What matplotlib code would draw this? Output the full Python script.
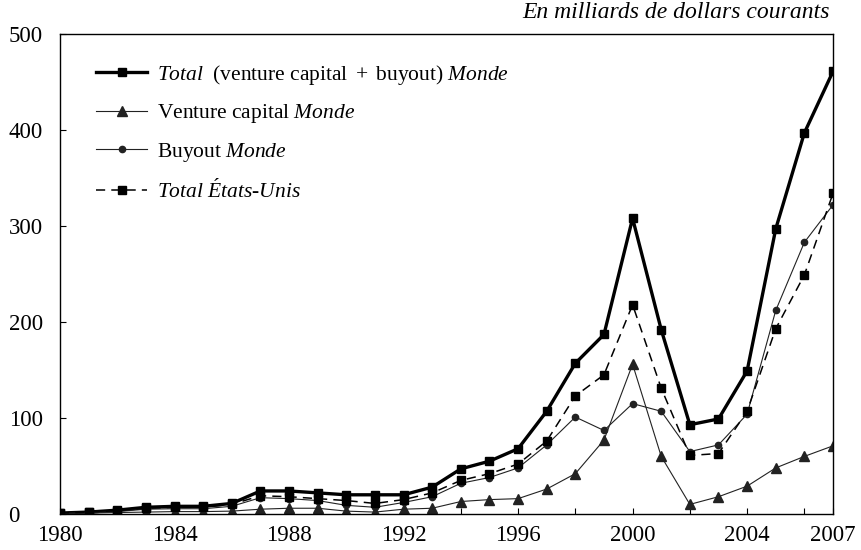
import matplotlib
matplotlib.use("Agg")
import matplotlib.pyplot as plt

plt.rcParams['font.family'] = ['Liberation Serif', 'DejaVu Serif']
plt.rcParams['mathtext.fontset'] = 'custom'
plt.rcParams['mathtext.rm'] = 'Liberation Serif'
plt.rcParams['mathtext.it'] = 'Liberation Serif:italic'

years = list(range(1980, 2008))
total_monde = [1, 2, 4, 7, 8, 8, 11, 24, 24, 22, 20, 20, 20, 28, 47, 55, 68,
               107, 157, 187, 308, 192, 93, 99, 149, 297, 397, 461]
venture = [0.5, 1, 1.5, 2, 2.5, 2.5, 3, 5, 6, 6, 3, 2, 5, 6, 13, 15, 16,
           26, 42, 77, 156, 60, 10, 18, 29, 48, 60, 71]
buyout = [0.5, 1, 2.5, 5, 5.5, 5.5, 8, 17, 16, 14, 9, 7, 12, 18, 32, 38, 48,
          72, 101, 87, 115, 107, 65, 72, 104, 212, 283, 322]
total_us = [1, 2, 3.5, 6, 7, 7, 10, 19, 18, 16, 14, 11, 15, 22, 35, 42, 52,
            76, 123, 145, 218, 131, 61, 63, 107, 193, 249, 334]

labels = [
    r"$\mathit{Total\ \ (}\mathrm{venture\ capital\ +\ buyout}\mathit{)\ Monde}$",
    r"$\mathrm{Venture\ capital\ }\mathit{Monde}$",
    r"$\mathrm{Buyout\ }\mathit{Monde}$",
    r"$\mathit{Total\ \acute{E}tats}$" + "\u2010" + r"$\mathit{Unis}$",
]

fig = plt.figure(figsize=(8.61, 5.5), dpi=100)
ax = fig.add_axes([60/861, 1-514/550, (833-60)/861, (514-34)/550])

ax.plot(years, total_monde, color='black', lw=2.4, marker='s', ms=6, label=labels[0])
ax.plot(years, venture, color='#222222', lw=0.8, marker='^', ms=6.5, label=labels[1])
ax.plot(years, buyout, color='#222222', lw=0.8, marker='o', ms=4.5, label=labels[2])
ax.plot(years, total_us, color='black', lw=1.1, ls=(0, (6, 4)), marker='s', ms=6, label=labels[3])

ax.set_xlim(1980, 2007)
ax.set_ylim(0, 500)
xt = list(range(1980, 2007, 2)) + [2007]
ax.set_xticks(xt)
ax.set_xticklabels([str(y) if (y % 4 == 0 or y == 2007) else '' for y in xt])
ax.set_yticks([0, 100, 200, 300, 400, 500])
ax.tick_params(direction='in', length=4, width=0.8, labelsize=16.5)
ax.tick_params(axis='x', pad=8)
ax.tick_params(axis='y', pad=37)
for lab in ax.get_yticklabels():
    lab.set_horizontalalignment('left')
for s in ax.spines.values():
    s.set_linewidth(1.0)

leg = ax.legend(loc='upper left', frameon=False, fontsize=15.5, handlelength=2.35,
                handletextpad=0.45, labelspacing=0.72, bbox_to_anchor=(0.036, 0.958),
                borderaxespad=0)

fig.text(830/861, 1-12/550, "En milliards de dollars courants", ha='right', va='center',
         fontsize=17, style='italic')

fig.savefig("out.png", dpi=100)
